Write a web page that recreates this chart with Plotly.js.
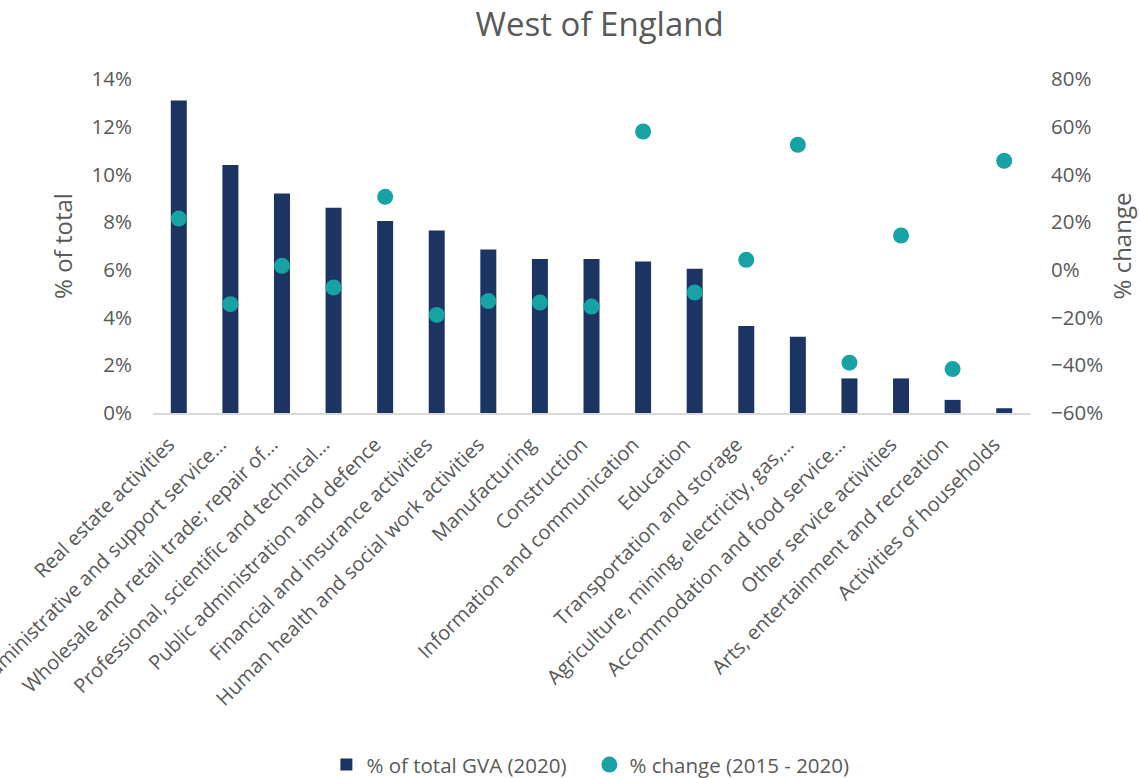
<!DOCTYPE html>
<html>
<head>
<meta charset="utf-8">
<script src="https://cdn.plot.ly/plotly-3.0.1.min.js"></script>
<style>html,body{margin:0;padding:0;background:#fff;}#chart{width:1140px;height:778px;}</style>
</head>
<body>
<div id="chart"></div>
<script>
const categories = [
  "Real estate activities",
  "Administrative and support service…",
  "Wholesale and retail trade; repair of…",
  "Professional, scientific and technical…",
  "Public administration and defence",
  "Financial and insurance activities",
  "Human health and social work activities",
  "Manufacturing",
  "Construction",
  "Information and communication",
  "Education",
  "Transportation and storage",
  "Agriculture, mining, electricity, gas,…",
  "Accommodation and food service…",
  "Other service activities",
  "Arts, entertainment and recreation",
  "Activities of households"
];
const shareGVA2020 = [13.1, 10.4, 9.2, 8.6, 8.05, 7.65, 6.85, 6.45, 6.45, 6.35, 6.05, 3.65, 3.2, 1.45, 1.45, 0.55, 0.2];
const change2015to2020 = [21.5, -14.4, 1.7, -7.4, 30.6, -18.9, -13.1, -13.7, -15.4, 58.0, -9.5, 4.2, 52.4, -38.9, 14.4, -41.6, 45.7];

const font = "'Open Sans', 'Noto Sans', sans-serif";
const grey = "#595959";

const traces = [
  {
    type: "bar",
    name: "% of total GVA (2020)",
    x: categories,
    y: shareGVA2020,
    marker: {color: "#1c3461"},
    width: 0.31,
    yaxis: "y"
  },
  {
    type: "scatter",
    mode: "markers",
    name: "% change (2015 - 2020)",
    x: categories,
    y: change2015to2020,
    marker: {color: "#17a3a3", size: 16},
    yaxis: "y2"
  }
];

const layout = {
  width: 1140,
  height: 778,
  margin: {l: 153, r: 110, t: 79, b: 365},
  paper_bgcolor: "#fff",
  plot_bgcolor: "#fff",
  font: {family: font, color: grey, size: 20},
  title: {text: "West of England", font: {size: 33, color: grey, family: font}, x: 0.526, xanchor: "center", y: 0.968, yanchor: "middle"},
  showlegend: true,
  legend: {orientation: "h", xref: "container", yref: "container", x: 0.517, xanchor: "center", y: 0.017, yanchor: "middle", font: {size: 20.5, color: grey}, traceorder: "normal", itemwidth: 30, entrywidth: 218, entrywidthmode: "pixels"},
  xaxis: {
    type: "category",
    range: [-0.5, categories.length - 0.5],
    tickangle: -45,
    tickfont: {size: 20, color: grey},
    ticklabelstandoff: 10,
    ticklabelshift: -10,
    showline: true, linecolor: "#d9d9d9", linewidth: 2,
    showgrid: false, ticks: "", zeroline: false, automargin: false
  },
  yaxis: {
    range: [0, 14], dtick: 2, ticksuffix: "%",
    showgrid: false, zeroline: false, showline: false, automargin: false,
    tickfont: {size: 20.5, color: grey},
    ticklabelstandoff: 20,
    title: {text: "% of total", font: {size: 24, color: grey}, standoff: 12}
  },
  yaxis2: {
    overlaying: "y", side: "right",
    range: [-60, 80], dtick: 20, ticksuffix: "%",
    showgrid: false, zeroline: false, showline: false, automargin: false,
    tickfont: {size: 20.5, color: grey},
    ticklabelstandoff: 20,
    title: {text: "% change", font: {size: 24, color: grey}, standoff: 12}
  },
  bargap: 0.69
};

Plotly.newPlot("chart", traces, layout, {displayModeBar: false, staticPlot: true});
</script>
</body>
</html>
